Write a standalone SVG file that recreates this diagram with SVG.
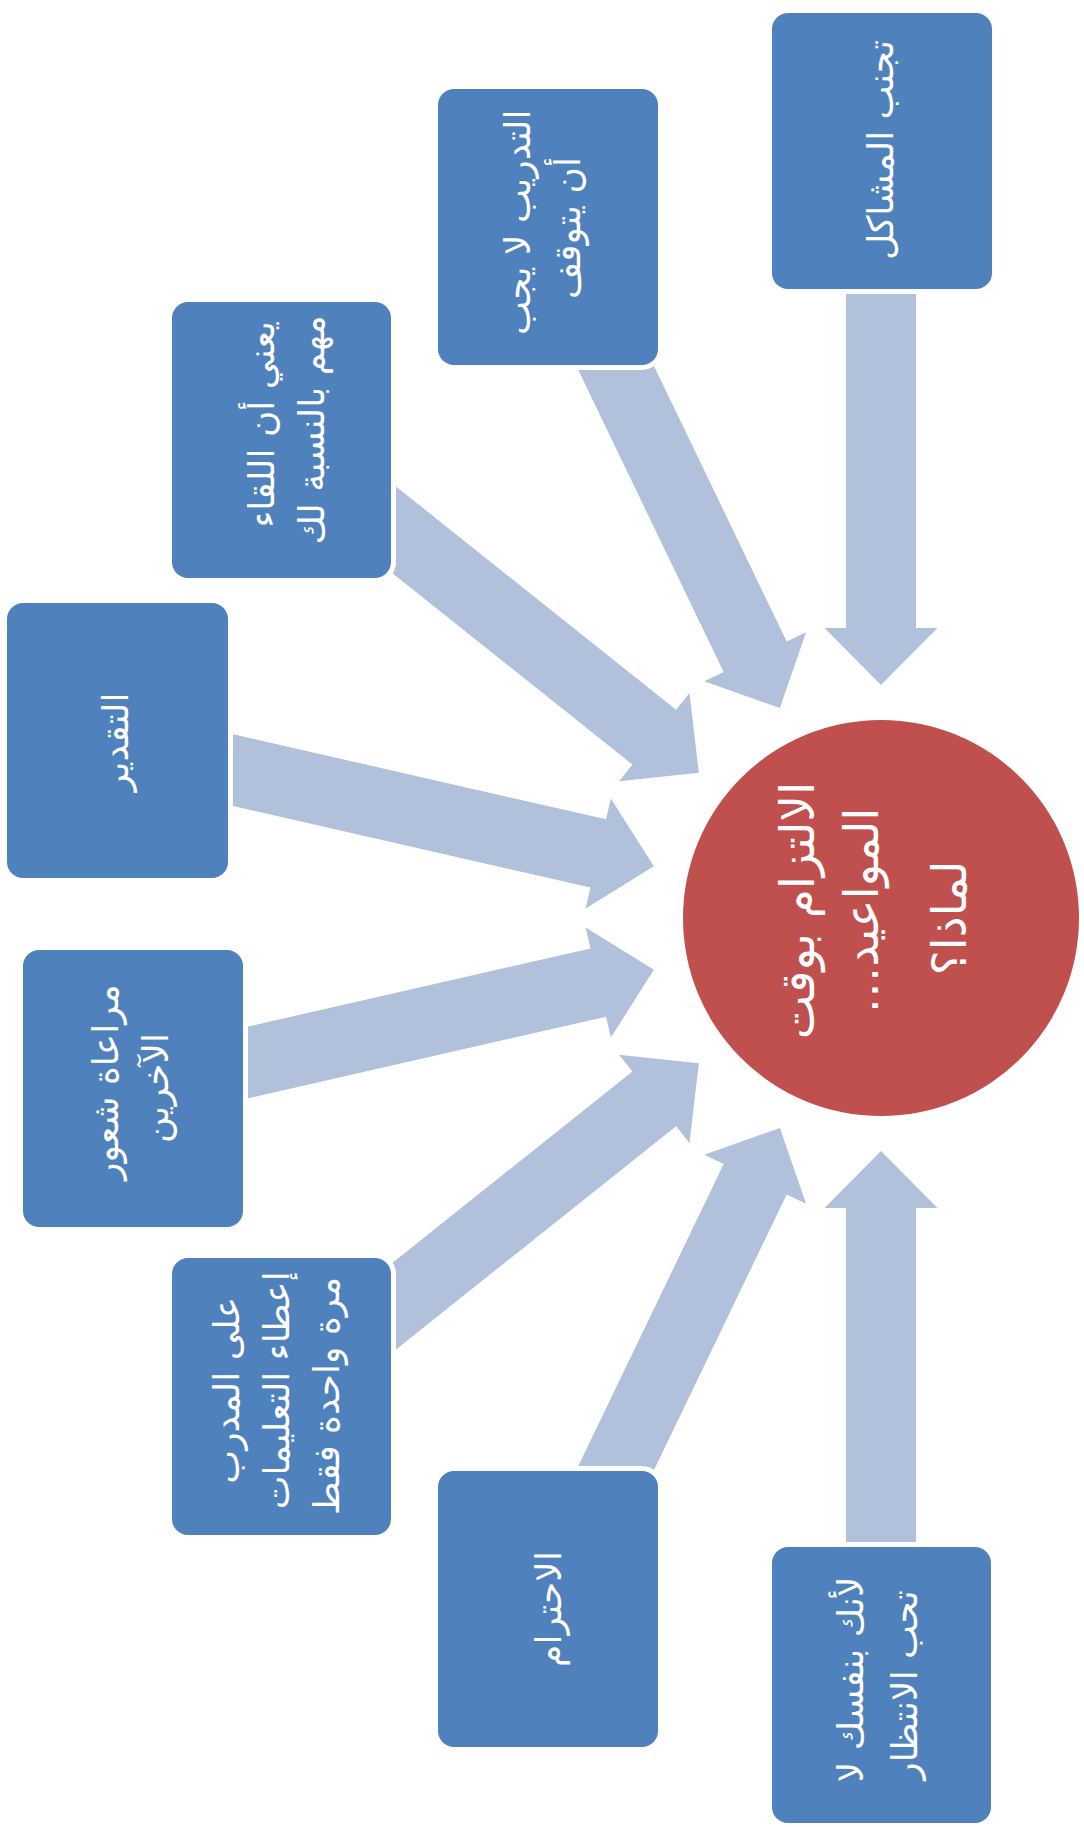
<svg xmlns="http://www.w3.org/2000/svg" xmlns:xlink="http://www.w3.org/1999/xlink" width="1084" height="1827" viewBox="0 0 1084 1827">
  <style>
    .box { fill: #4F81BD; stroke: #FFFFFF; stroke-width: 10; paint-order: stroke; }
    .hub { fill: #C0504D; }
    .arrow { fill: #B2C1DB; }
    .lbl { font-family: "DejaVu Sans", "Noto Sans", sans-serif; font-size: 36px; fill: #FFFFFF; text-anchor: middle; dominant-baseline: central; direction: rtl; unicode-bidi: embed; }
    .hublbl { font-size: 47px; }
  </style>
  <defs>
    <path id="arrowShape" class="arrow" d="M -35,-700 L 35,-700 L 35,-290 L 56.5,-290 L 0,-233 L -56.5,-290 L -35,-290 Z"/>
  </defs>
  <rect width="1084" height="1827" fill="#FFFFFF"/>

  <g id="connectors">
    <use xlink:href="#arrowShape" href="#arrowShape" transform="translate(881 918) rotate(0)"/>
    <use xlink:href="#arrowShape" href="#arrowShape" transform="translate(881 918) rotate(-25.714)"/>
    <use xlink:href="#arrowShape" href="#arrowShape" transform="translate(881 918) rotate(-51.429)"/>
    <use xlink:href="#arrowShape" href="#arrowShape" transform="translate(881 918) rotate(-77.143)"/>
    <use xlink:href="#arrowShape" href="#arrowShape" transform="translate(881 918) rotate(-102.857)"/>
    <use xlink:href="#arrowShape" href="#arrowShape" transform="translate(881 918) rotate(-128.571)"/>
    <use xlink:href="#arrowShape" href="#arrowShape" transform="translate(881 918) rotate(-154.286)"/>
    <use xlink:href="#arrowShape" href="#arrowShape" transform="translate(881 918) rotate(-180)"/>
  </g>

  <g id="hub">
    <circle class="hub" cx="881" cy="918" r="198"/>
    <text class="lbl hublbl" transform="translate(873 918) rotate(-90)">
      <tspan x="0" y="-76">الالتزام بوقت</tspan>
      <tspan x="0" y="-12">المواعيد…</tspan>
      <tspan x="0" y="76">لماذا؟</tspan>
    </text>
  </g>

  <g id="node1">
    <rect class="box" x="772" y="13" width="220" height="276" rx="16"/>
    <text class="lbl" transform="translate(880 150) rotate(-90)"><tspan x="0" y="0">تجنب المشاكل</tspan></text>
  </g>

  <g id="node2">
    <rect class="box" x="438" y="89" width="220" height="276" rx="16"/>
    <text class="lbl" transform="translate(542 228) rotate(-90)">
      <tspan x="0" y="-25">التدريب لا يجب</tspan>
      <tspan x="0" y="25">أن يتوقف</tspan>
    </text>
  </g>

  <g id="node3">
    <rect class="box" x="172" y="302" width="219" height="276" rx="16"/>
    <text class="lbl" transform="translate(286 430) rotate(-90)">
      <tspan x="0" y="-25">يعني أن اللقاء</tspan>
      <tspan x="0" y="25">مهم بالنسبة لك</tspan>
    </text>
  </g>

  <g id="node4">
    <rect class="box" x="7" y="603" width="221" height="275" rx="16"/>
    <text class="lbl" transform="translate(115 742) rotate(-90)"><tspan x="0" y="0">التقدير</tspan></text>
  </g>

  <g id="node5">
    <rect class="box" x="23" y="950" width="220" height="277" rx="16"/>
    <text class="lbl" transform="translate(130 1088) rotate(-90)">
      <tspan x="0" y="-25">مراعاة شعور</tspan>
      <tspan x="0" y="25">الآخرين</tspan>
    </text>
  </g>

  <g id="node6">
    <rect class="box" x="172" y="1258" width="219" height="277" rx="16"/>
    <text class="lbl" transform="translate(276 1396) rotate(-90)">
      <tspan x="0" y="-50">على المدرب</tspan>
      <tspan x="0" y="0">إعطاء التعليمات</tspan>
      <tspan x="0" y="50">مرة واحدة فقط</tspan>
    </text>
  </g>

  <g id="node7">
    <rect class="box" x="438" y="1471" width="220" height="276" rx="16"/>
    <text class="lbl" transform="translate(548 1609) rotate(-90)"><tspan x="0" y="0">الاحترام</tspan></text>
  </g>

  <g id="node8">
    <rect class="box" x="772" y="1547" width="219" height="276" rx="16"/>
    <text class="lbl" transform="translate(877 1685) rotate(-90)">
      <tspan x="0" y="-27">لأنك بنفسك لا</tspan>
      <tspan x="0" y="27">تحب الانتظار</tspan>
    </text>
  </g>
</svg>
